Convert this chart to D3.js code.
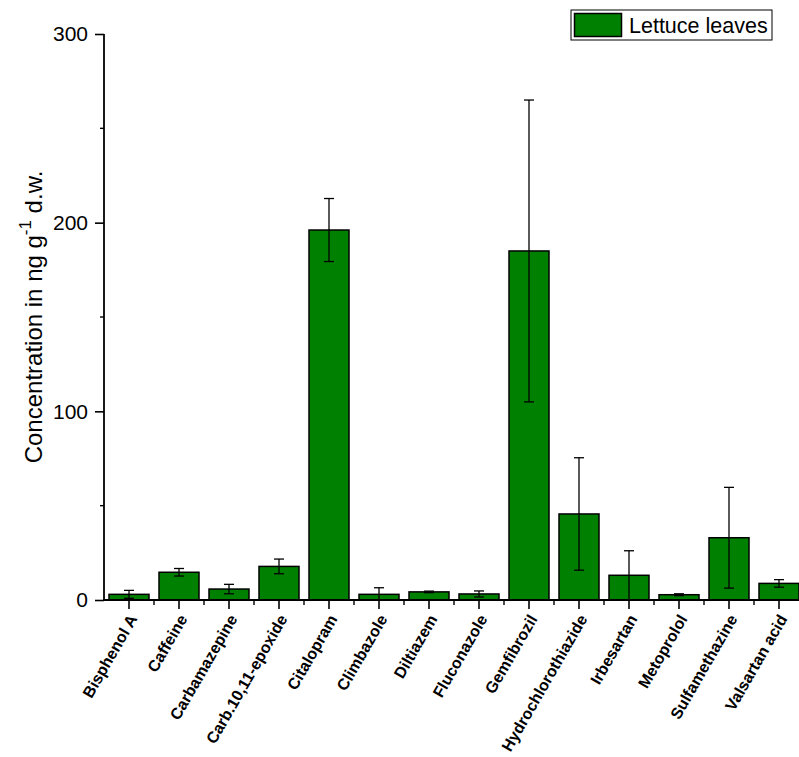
<!DOCTYPE html>
<html>
<head>
<meta charset="utf-8">
<script src="https://cdn.jsdelivr.net/npm/d3@7"></script>
<style>
  html, body { margin: 0; padding: 0; background: #fff; }
  svg { display: block; font-family: "Liberation Sans", Arial, sans-serif; }
</style>
</head>
<body>
<svg id="chart" width="799" height="757"></svg>
<script>
// Compound concentrations in lettuce leaves (ng g-1 dry weight), mean and SD
const categories = ["Bisphenol A", "Caffeine", "Carbamazepine", "Carb.10,11-epoxide",
  "Citalopram", "Climbazole", "Diltiazem", "Fluconazole", "Gemfibrozil",
  "Hydrochlorothiazide", "Irbesartan", "Metoprolol", "Sulfamethazine", "Valsartan acid"];
const means = [3.0, 14.7, 5.8, 17.8, 196.1, 3.0, 4.3, 3.2, 185.0, 45.6, 13.1, 2.8, 33.0, 8.8];
const errors = [2.1, 2.0, 2.5, 3.9, 16.7, 3.5, 0.4, 1.6, 80.0, 29.8, 13.0, 0.5, 26.7, 2.0];
const yTicks = [0, 100, 200, 300];
const yMinorTicks = [50, 150, 250];
const seriesName = "Lettuce leaves";

const svg = d3.select("#chart");
const plotLeft = 104, plotRight = 804, plotTop = 34, plotBottom = 600;
const green = "#008000";
const fontFam = "'Liberation Sans', Arial, sans-serif";

const x = d3.scaleBand().domain(categories).range([plotLeft, plotRight])
  .paddingInner(0.2).paddingOuter(0.1);
const y = d3.scaleLinear().domain([0, 300]).range([plotBottom, plotTop]);

// bars
svg.append("g").selectAll("rect").data(categories).join("rect")
  .attr("x", d => x(d))
  .attr("y", (d, i) => y(means[i]))
  .attr("width", x.bandwidth())
  .attr("height", (d, i) => y(0) - y(means[i]))
  .attr("fill", green)
  .attr("stroke", "#000")
  .attr("stroke-width", 1.5);

// error bars
const eb = svg.append("g").attr("stroke", "#000").attr("stroke-width", 1.3);
categories.forEach((c, i) => {
  const cx = x(c) + x.bandwidth() / 2;
  const hi = y(means[i] + errors[i]);
  const lo = y(Math.max(0, means[i] - errors[i]));
  eb.append("line").attr("x1", cx).attr("x2", cx).attr("y1", hi).attr("y2", lo);
  eb.append("line").attr("x1", cx - 5).attr("x2", cx + 5).attr("y1", hi).attr("y2", hi);
  if (means[i] - errors[i] > 0)
    eb.append("line").attr("x1", cx - 5).attr("x2", cx + 5).attr("y1", lo).attr("y2", lo);
});

// y axis
const yAxis = svg.append("g").attr("transform", `translate(${plotLeft},0)`)
  .call(d3.axisLeft(y).tickValues(yTicks).tickSize(9).tickPadding(7).tickFormat(d3.format("d")));
yAxis.select(".domain").remove();
yAxis.selectAll("line").attr("stroke-width", 1.6);
yAxis.selectAll("text").attr("font-size", 21).attr("font-family", fontFam).attr("fill", "#000");
svg.append("g").selectAll("line").data(yMinorTicks).join("line")
  .attr("x1", plotLeft - 4).attr("x2", plotLeft).attr("y1", d => y(d)).attr("y2", d => y(d))
  .attr("stroke", "#000").attr("stroke-width", 1.4);
svg.append("line").attr("x1", plotLeft).attr("x2", plotLeft).attr("y1", plotTop).attr("y2", plotBottom + 1)
  .attr("stroke", "#000").attr("stroke-width", 1.8);

// x axis
const xAxis = svg.append("g").attr("transform", `translate(0,${plotBottom})`)
  .call(d3.axisBottom(x).tickSize(9).tickPadding(4));
xAxis.select(".domain").remove();
xAxis.selectAll("line").attr("stroke-width", 1.6);
xAxis.selectAll("text")
  .attr("font-size", 16).attr("font-weight", "bold").attr("fill", "#000")
  .attr("font-family", fontFam)
  .attr("text-anchor", "end")
  .attr("dy", "0.35em")
  .attr("transform", "translate(4,16) rotate(-60)")
  .attr("y", 0).attr("x", 0);
// minor ticks at band boundaries
const bounds = categories.map(c => x(c) - x.step() * x.paddingInner() / 2).slice(1);
svg.append("g").selectAll("line").data(bounds).join("line")
  .attr("x1", d => d).attr("x2", d => d).attr("y1", plotBottom).attr("y2", plotBottom + 5)
  .attr("stroke", "#000").attr("stroke-width", 1.4);
svg.append("line").attr("x1", plotLeft - 1).attr("x2", 799).attr("y1", plotBottom).attr("y2", plotBottom)
  .attr("stroke", "#000").attr("stroke-width", 1.8);

// y axis title
const yt = svg.append("text")
  .attr("transform", "translate(42,317) rotate(-90)")
  .attr("text-anchor", "middle")
  .attr("font-family", fontFam)
  .attr("font-size", 24).attr("fill", "#000");
yt.append("tspan").text("Concentration in ng g");
yt.append("tspan").attr("dy", -11).attr("font-size", 17).text("-1");
yt.append("tspan").attr("dy", 11).text(" d.w.");

// legend
const lg = svg.append("g");
lg.append("rect").attr("x", 571).attr("y", 10).attr("width", 201).attr("height", 30)
  .attr("fill", "#fff").attr("stroke", "#000").attr("stroke-width", 1);
lg.append("rect").attr("x", 574.5).attr("y", 13.5).attr("width", 47).attr("height", 23)
  .attr("fill", green).attr("stroke", "#000").attr("stroke-width", 1.5);
lg.append("text").attr("x", 629).attr("y", 33).attr("font-size", 21.5)
  .attr("font-family", fontFam).attr("fill", "#000")
  .text(seriesName);
</script>
</body>
</html>
